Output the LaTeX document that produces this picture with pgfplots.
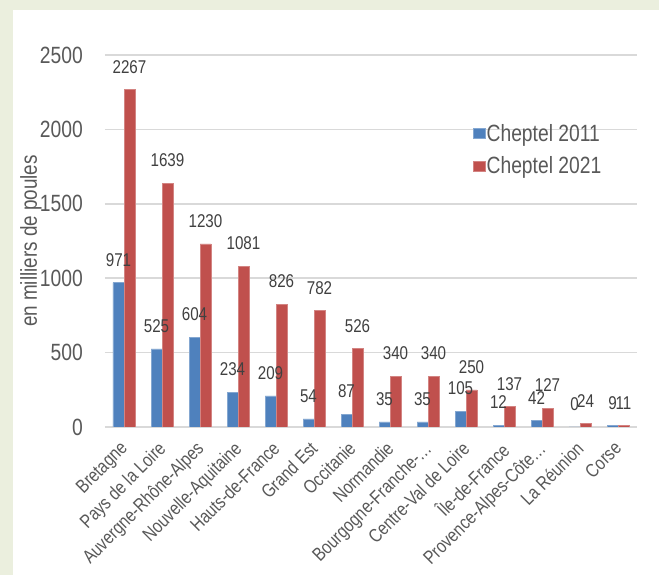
\documentclass[border=0pt]{standalone}
\usepackage{pgfplots}
\pgfplotsset{compat=1.18}
\usepackage{fontspec}
\setmainfont{Liberation Sans}[FakeStretch=0.82]

\definecolor{bggreen}{HTML}{EBEFDE}
\definecolor{barblue}{HTML}{4F81BD}
\definecolor{barred}{HTML}{C0504D}
\definecolor{gridgrey}{HTML}{D9D9D9}
\definecolor{txtgrey}{HTML}{595959}
\definecolor{lblgrey}{HTML}{404040}

\begin{document}
\begin{tikzpicture}
\fill[bggreen] (0,0) rectangle (659pt,575pt);
\fill[white] (13pt,0) rectangle (659pt,565pt);
\begin{axis}[
  at={(105pt,148pt)}, anchor=south west,
  scale only axis, width=532pt, height=372pt,
  ymin=0, ymax=2500, xmin=-0.5, xmax=13.5,
  ytick={0,500,1000,1500,2000,2500},
  xtick={0,...,13},
  xticklabels={Bretagne,Pays de la Loire,Auvergne-Rhône-Alpes,Nouvelle-Aquitaine,Hauts-de-France,Grand Est,Occitanie,Normandie,Bourgogne-Franche-…,Centre-Val de Loire,Île-de-France,Provence-Alpes-Côte…,La Réunion,Corse},
  axis line style={draw=none},
  major tick length=0pt,
  ymajorgrids, grid style={gridgrey, line width=1.6pt},
  /pgf/number format/assume math mode=true,
  /pgf/number format/1000 sep={},
  yticklabel style={font=\fontsize{23.5}{26}\selectfont, text=txtgrey, inner sep=0pt, anchor=east, xshift=-22pt},
  xticklabel style={font=\fontsize{19}{21}\selectfont, text=txtgrey, inner sep=0pt, xshift=-5pt, yshift=-13pt, rotate=45, anchor=north east},
  ylabel={en milliers de poules},
  ylabel style={font=\fontsize{23}{26}\selectfont, text=txtgrey, at={(axis description cs:-0.1391,0.5)}, anchor=center, rotate=0},
  ybar=0pt, bar width=11pt,
  nodes near coords,
  every node near coord/.append style={font=\fontsize{18.5}{21}\selectfont, text=lblgrey, inner sep=0pt, anchor=south, yshift=16pt},
  legend style={at={(0.686,0.822)}, anchor=north west, draw=none, fill=none,
    font=\fontsize{23.5}{26}\selectfont, text=txtgrey,
    nodes={inner sep=1pt}, row sep=12pt},
  legend cell align=left,
  legend image code/.code={\fill[#1] (0pt,-5pt) rectangle (12pt,5pt);},
]
\addplot[fill=barblue, draw=barblue!70!white, line width=0.5pt] coordinates {
  (0,971) (1,525) (2,604) (3,234) (4,209) (5,54) (6,87) (7,35) (8,35) (9,105) (10,12) (11,42) (12,0) (13,9)};
\addplot[fill=barred, draw=barred!70!white, line width=0.5pt] coordinates {
  (0,2267) (1,1639) (2,1230) (3,1081) (4,826) (5,782) (6,526) (7,340) (8,340) (9,250) (10,137) (11,127) (12,24) (13,11)};
\legend{Cheptel 2011, Cheptel 2021}
\end{axis}
\pgfresetboundingbox
\useasboundingbox (0,0) rectangle (659pt,575pt);
\end{tikzpicture}
\end{document}
